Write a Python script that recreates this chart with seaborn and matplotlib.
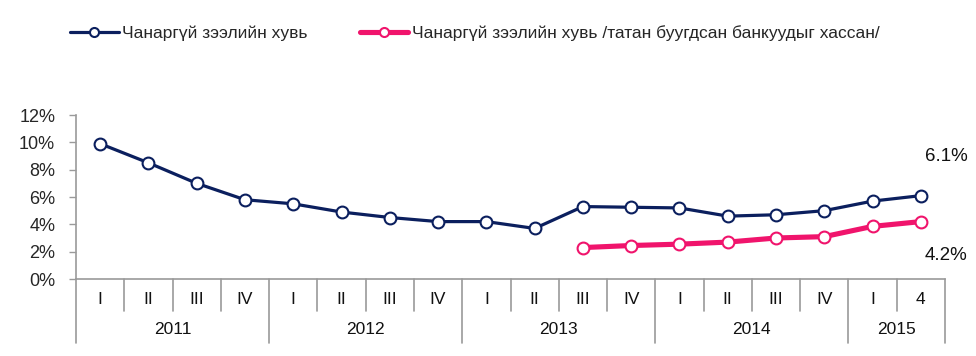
import numpy as np
import pandas as pd
import matplotlib
matplotlib.use("Agg")
import matplotlib.pyplot as plt
import matplotlib.transforms as mtransforms
import seaborn as sns

quarters = ["I", "II", "III", "IV", "I", "II", "III", "IV", "I", "II", "III", "IV",
            "I", "II", "III", "IV", "I", "4"]
years = ["2011", "2012", "2013", "2014", "2015"]
year_sizes = [4, 4, 4, 4, 2]
npl_total = [9.9, 8.5, 7.0, 5.8, 5.5, 4.9, 4.5, 4.2, 4.2, 3.7, 5.3, 5.25,
             5.2, 4.6, 4.7, 5.0, 5.7, 6.1]
npl_excl = [np.nan] * 10 + [2.3, 2.45, 2.55, 2.7, 3.0, 3.1, 3.85, 4.2]
label_total = "Чанаргүй зээлийн хувь"
label_excl = "Чанаргүй зээлийн хувь /татан буугдсан банкуудыг хассан/"
end_labels = ["6.1%", "4.2%"]

sns.set_style("white")
plt.rcParams["font.family"] = ["Liberation Sans", "DejaVu Sans"]

blue = "#0b1f5e"
pink = "#f0146c"
grey = "#9a9a9a"

x = np.arange(len(quarters))
df = pd.DataFrame({"x": np.concatenate([x, x]),
                   "v": np.concatenate([npl_total, npl_excl]) / 100,
                   "s": [label_total] * len(x) + [label_excl] * len(x)})

fig = plt.figure(figsize=(9.76, 3.56), dpi=100)
ax = fig.add_axes([76 / 976, 1 - 279 / 356, 869 / 976, 164 / 356])

sns.lineplot(data=df[df.s == label_total], x="x", y="v", ax=ax, color=blue, lw=2.3,
             marker="o", markersize=8.5, markerfacecolor="white", markeredgecolor=blue,
             markeredgewidth=1.5, label=label_total)
sns.lineplot(data=df[df.s == label_excl].dropna(), x="x", y="v", ax=ax, color=pink, lw=3.7,
             marker="o", markersize=8.5, markerfacecolor="white", markeredgecolor=pink,
             markeredgewidth=1.5, label=label_excl)

ax.set_xlim(-0.5, len(quarters) - 0.5)
ax.set_ylim(0, 0.12)
ax.set_yticks(np.arange(0, 0.121, 0.02))
ax.set_yticklabels([f"{int(round(t*100))}%" for t in np.arange(0, 0.121, 0.02)], fontsize=13)
ax.tick_params(axis="y", length=5, color=grey, width=1, pad=10, left=True)
ax.set_xticks([])
ax.set_xlabel("")
ax.set_ylabel("")
for s in ["top", "right"]:
    ax.spines[s].set_visible(False)
for s in ["left", "bottom"]:
    ax.spines[s].set_color(grey)
    ax.spines[s].set_linewidth(1.2)

trans = mtransforms.blended_transform_factory(ax.transData, ax.transAxes)
for i, q in enumerate(quarters):
    ax.text(i, -0.125, q, transform=trans, ha="center", va="center", fontsize=12.5, color="#111111")
bounds = np.cumsum([0] + year_sizes) - 0.5
for b in range(len(quarters) + 1):
    xb = b - 0.5
    low = -0.39 if xb in bounds else -0.195
    ax.plot([xb, xb], [0, low], transform=trans, color=grey, lw=1.2, clip_on=False)
for yname, a, bnd in zip(years, bounds[:-1], bounds[1:]):
    ax.text((a + bnd) / 2, -0.305, yname, transform=trans, ha="center", va="center",
            fontsize=12.5, color="#111111")

ax.text(len(quarters) - 1 + 0.52, 0.0895, end_labels[0], ha="center", va="center", fontsize=13.5, color="#111111")
ax.text(len(quarters) - 1 + 0.52, 0.0175, end_labels[1], ha="center", va="center", fontsize=13.5, color="#111111")

leg = ax.legend(loc="center left", bbox_to_anchor=(70 / 976, 1 - 33 / 356), bbox_transform=fig.transFigure,
                ncol=2, frameon=False, fontsize=12.5, handlelength=2.8, handletextpad=0.2,
                columnspacing=3.0, borderaxespad=0, borderpad=0)
for h in leg.legend_handles:
    h.set_markersize(6.5)

fig.savefig("out.png", dpi=100, facecolor="white")
